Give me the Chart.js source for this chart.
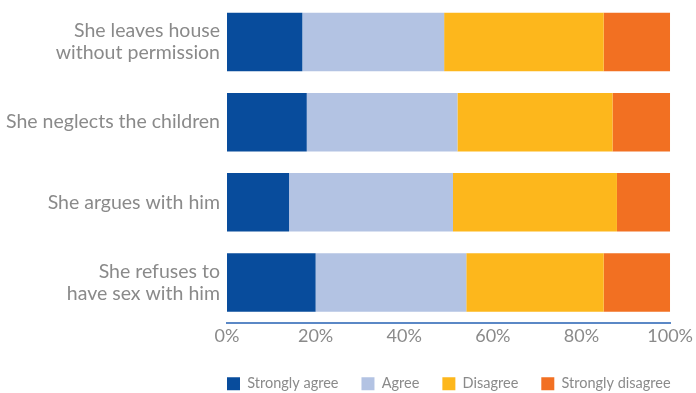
<!DOCTYPE html>
<html>
<head>
<meta charset="utf-8">
<script src="https://cdn.jsdelivr.net/npm/chart.js@4"></script>
<style>
  html, body { margin: 0; padding: 0; background: #fff; }
  #wrap { width: 696px; height: 393px; }
</style>
</head>
<body>
<div id="wrap"><canvas id="chart"></canvas></div>
<script>
// reasons (y axis)
const reasons = [
  ['She leaves house', 'without permission'],
  'She neglects the children',
  'She argues with him',
  ['She refuses to', 'have sex with him']
];
// percentages per answer
const stronglyAgree    = [17, 18, 14, 20];
const agree            = [32, 34, 37, 34];
const disagree         = [36, 35, 37, 31];
const stronglyDisagree = [15, 13, 12, 15];
const xTicks = [0, 20, 40, 60, 80, 100];

const grey = '#8a8a8a';
const fontFam = 'Lato, "Open Sans", sans-serif';

function ds(label, data, color) {
  return {
    label: label,
    data: data,
    backgroundColor: color,
    borderWidth: 0,
    barPercentage: 0.73,
    categoryPercentage: 1
  };
}

// legend sits under the plot, starting at the left edge of the bars
const legendShift = {
  id: 'legendShift',
  afterLayout(chart) {
    const lg = chart.legend;
    if (!lg || !lg.lineWidths) return;
    const pad = lg.options.labels.padding;
    const start = (lg.left + pad + lg.right - lg.lineWidths[0]) / 2;
    const dx = chart.chartArea.left - start;
    lg.left += dx;
    lg.right += dx;
    lg.top += 8;
    lg.bottom += 8;
  }
};

new Chart(document.getElementById('chart'), {
  type: 'bar',
  data: {
    labels: reasons,
    datasets: [
      ds('Strongly agree', stronglyAgree, '#084c9c'),
      ds('Agree', agree, '#b3c3e3'),
      ds('Disagree', disagree, '#fdb71c'),
      ds('Strongly disagree', stronglyDisagree, '#f27022')
    ]
  },
  plugins: [legendShift],
  options: {
    indexAxis: 'y',
    responsive: true,
    maintainAspectRatio: false,
    animation: false,
    layout: { padding: { top: 2, left: 0, right: 0, bottom: 0 } },
    plugins: {
      tooltip: { enabled: false },
      legend: {
        position: 'bottom',
        labels: {
          boxWidth: 13,
          boxHeight: 13,
          padding: 23,
          color: grey,
          font: { family: fontFam, size: 14.5 }
        }
      }
    },
    scales: {
      x: {
        stacked: true,
        min: 0,
        max: 100,
        afterBuildTicks: s => { s.ticks = xTicks.map(v => ({ value: v })); },
        afterFit: s => { s.height = 23; },
        grid: { display: false, drawTicks: false },
        border: { display: true, color: '#5b88c6', width: 2 },
        ticks: {
          padding: 3,
          color: grey,
          font: { family: fontFam, size: 18 },
          callback: v => v + '%'
        }
      },
      y: {
        stacked: true,
        afterFit: s => { s.width = 227; s.paddingTop = 0; s.paddingBottom = 0; },
        grid: { display: false, drawTicks: false },
        border: { display: false },
        ticks: {
          padding: 7,
          color: grey,
          font: { family: fontFam, size: 19.5, lineHeight: 1.13 }
        }
      }
    }
  }
});
</script>
</body>
</html>
